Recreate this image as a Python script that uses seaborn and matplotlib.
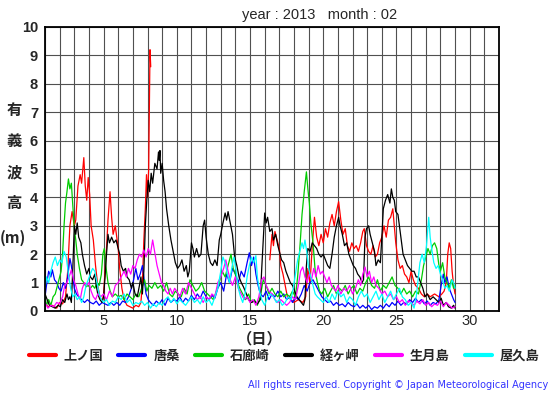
import numpy as np
import pandas as pd
import matplotlib
matplotlib.use("Agg")
import matplotlib.pyplot as plt
from matplotlib.lines import Line2D
import seaborn as sns

# ---------------- data ----------------
stations = ["上ノ国", "唐桑", "石廊崎", "経ヶ岬", "生月島", "屋久島"]
colors = ["#ff0000", "#0000ff", "#00cc00", "#000000", "#ff00ff", "#00ffff"]

red1_day = [1.0, 1.2, 1.5, 1.8, 2.0, 2.2, 2.4, 2.55, 2.7, 2.85, 3.0, 3.1, 3.25, 3.4, 3.5, 3.65, 3.75, 3.85, 3.95, 4.05,
            4.15, 4.3, 4.45, 4.6, 4.75, 4.9, 5.0, 5.1, 5.2, 5.3, 5.44, 5.55, 5.65, 5.8, 5.9, 6.0, 6.1, 6.25, 6.4, 6.6,
            6.8, 7.0, 7.2, 7.4, 7.55, 7.65, 7.75, 7.85, 7.93, 8.0, 8.08, 8.17, 8.22]
red1_val = [0.3, 0.15, 0.2, 0.1, 0.3, 0.25, 0.5, 1.4, 3.0, 3.5, 3.0, 3.2, 4.4, 4.8, 4.5, 5.4, 4.4, 3.9, 4.7, 4.1,
            3.0, 2.5, 1.6, 0.9, 0.5, 0.3, 0.6, 1.4, 2.2, 3.2, 4.2, 3.3, 2.7, 3.0, 2.6, 2.2, 1.5, 0.8, 0.4, 0.2,
            0.15, 0.1, 0.2, 0.15, 0.3, 1.0, 2.5, 3.6, 4.8, 4.0, 5.0, 9.2, 8.6]
red2_day = [16.35, 16.5, 16.6, 16.7, 16.85, 17.0, 17.1, 17.25, 17.4, 17.55, 17.8, 18.0, 18.3, 18.6, 18.8, 18.95,
            19.1, 19.25, 19.4, 19.55, 19.7, 19.85, 20.0, 20.15, 20.3, 20.45, 20.6, 20.75, 20.9, 21.05, 21.2, 21.35,
            21.5, 21.65, 21.8, 21.95, 22.1, 22.25, 22.4, 22.55, 22.7, 22.8, 22.95, 23.1, 23.25, 23.4, 23.55, 23.7,
            23.85, 24.0, 24.15, 24.3, 24.45, 24.6, 24.75, 24.85, 24.95, 25.1, 25.25, 25.4, 25.55, 25.7, 25.85, 26.0,
            26.15, 26.3, 26.5, 26.7, 26.9, 27.1, 27.3, 27.6, 27.9, 28.1, 28.25, 28.4, 28.5, 28.6, 28.7, 28.8, 28.9, 29.0]
red2_val = [1.8, 2.7, 2.3, 2.8, 2.5, 2.2, 1.6, 1.3, 0.9, 0.5, 0.4, 0.3, 0.4, 0.3, 0.5, 1.5,
            1.0, 2.3, 3.3, 2.6, 2.3, 2.7, 2.4, 2.9, 2.6, 3.1, 3.4, 3.0, 3.5, 3.85, 3.2, 2.7,
            2.9, 2.3, 2.1, 2.4, 2.2, 2.3, 2.1, 2.4, 2.8, 2.9, 2.3, 2.1, 2.0, 2.3, 1.9, 2.0,
            2.4, 2.6, 3.0, 2.6, 3.2, 3.3, 3.6, 3.0, 2.4, 1.8, 1.5, 1.6, 1.3, 1.2, 1.0, 1.4,
            1.1, 0.9, 0.8, 0.6, 0.5, 0.6, 0.5, 0.6, 0.5, 0.6, 0.7, 1.0, 2.0, 2.4, 2.2, 1.4, 0.9, 0.6]

black_day = [1.0, 1.15, 1.3, 1.5, 1.7, 1.9, 2.05, 2.2, 2.35, 2.5, 2.6, 2.7, 2.8, 2.9, 3.0, 3.1, 3.2, 3.3, 3.45, 3.55,
             3.7, 3.85, 4.0, 4.1, 4.25, 4.4, 4.5, 4.6, 4.75, 4.9, 5.0, 5.1, 5.2, 5.3, 5.4, 5.55, 5.7, 5.85, 6.0, 6.1,
             6.2, 6.35, 6.5, 6.6, 6.75, 6.9, 7.0, 7.15, 7.3, 7.45, 7.55, 7.65, 7.75, 7.85, 7.95, 8.05, 8.15, 8.25,
             8.35, 8.5, 8.65, 8.75, 8.8, 8.85, 8.9, 9.0, 9.1, 9.2, 9.3, 9.45, 9.6, 9.75, 9.9, 10.05, 10.2, 10.35,
             10.5, 10.65, 10.75, 10.85, 11.0, 11.1, 11.2, 11.35, 11.5, 11.65, 11.8, 11.9, 12.0, 12.15, 12.3, 12.45,
             12.6, 12.75, 12.9, 13.0, 13.15, 13.3, 13.4, 13.5, 13.65, 13.8, 13.95, 14.1, 14.25, 14.4, 14.55, 14.75,
             14.9, 15.1, 15.3, 15.5, 15.7, 15.8, 15.9, 16.0, 16.1, 16.2, 16.35, 16.5, 16.6, 16.75, 16.9, 17.0,
             17.15, 17.3, 17.45, 17.6, 17.75, 17.9, 18.05, 18.2, 18.35, 18.5, 18.65, 18.75, 18.85, 18.95, 19.1,
             19.25, 19.4, 19.55, 19.7, 19.85, 20.0, 20.15, 20.3, 20.45, 20.6, 20.75, 20.9, 21.05, 21.15, 21.3,
             21.45, 21.6, 21.75, 21.9, 22.05, 22.2, 22.35, 22.5, 22.65, 22.75, 22.85, 22.95, 23.1, 23.2, 23.35,
             23.5, 23.6, 23.75, 23.9, 24.0, 24.1, 24.25, 24.4, 24.55, 24.65, 24.75, 24.85, 24.95, 25.1, 25.2, 25.3,
             25.45, 25.6, 25.75, 25.9, 26.05, 26.2, 26.35, 26.5, 26.65, 26.8, 26.95, 27.1, 27.3, 27.5, 27.7, 27.9,
             28.05, 28.2, 28.4, 28.55, 28.75, 28.9, 29.0]
black_val = [0.6, 0.4, 0.2, 0.15, 0.1, 0.2, 0.15, 0.4, 0.3, 0.6, 0.4, 0.5, 0.3, 1.5, 3.0, 2.7, 3.1, 2.6, 2.4, 2.0,
             1.6, 1.3, 1.5, 1.2, 1.1, 1.3, 0.9, 0.6, 0.4, 0.3, 0.5, 1.2, 2.0, 2.7, 2.4, 2.6, 2.4, 2.5, 2.2, 2.0,
             1.6, 1.4, 1.5, 1.2, 1.1, 0.8, 1.0, 0.6, 0.5, 0.9, 1.2, 0.6, 1.4, 3.0, 3.9, 4.6, 4.2, 4.85,
             4.5, 5.2, 5.0, 5.6, 5.3, 5.65, 4.85, 5.2, 4.6, 4.2, 3.6, 3.0, 2.5, 2.1, 1.7, 1.5, 1.6, 1.8,
             1.4, 1.6, 1.2, 1.4, 2.4, 2.2, 1.9, 2.2, 1.9, 2.0, 3.0, 3.2, 2.6, 2.0, 1.7, 1.6,
             1.8, 1.6, 2.5, 2.7, 3.1, 3.45, 3.2, 3.5, 3.1, 2.7, 1.9, 1.6, 1.2, 1.0, 0.85, 0.6,
             0.4, 0.3, 0.35, 0.25, 0.4, 1.5, 2.5, 3.45, 3.1, 3.3, 2.8, 2.9, 2.5, 2.7, 2.3, 2.1,
             1.8, 1.7, 1.4, 1.2, 1.0, 0.9, 0.7, 0.5, 0.4, 0.3, 0.2, 0.4, 1.6, 2.2, 2.1,
             2.4, 2.3, 2.2, 2.0, 1.9, 2.0, 1.8, 1.6, 1.5, 2.0, 2.6, 3.0, 3.3, 3.0, 2.7,
             2.3, 2.4, 2.0, 1.8, 1.6, 1.5, 1.3, 1.2, 1.0, 1.1, 2.6, 2.9, 3.0, 2.7, 2.4,
             2.1, 1.6, 1.8, 1.7, 2.6, 3.6, 3.9, 4.1, 3.8, 4.3, 4.0, 3.9, 3.5, 3.4, 3.0, 2.6,
             2.0, 1.8, 1.6, 1.5, 1.4, 1.4, 1.2, 1.2, 1.0, 0.8, 0.5, 0.6, 0.4, 0.5, 0.4, 0.3,
             0.45, 0.2, 0.3, 0.15, 0.1, 0.2, 0.1]

green_day = [1.0, 1.1, 1.25, 1.4, 1.55, 1.7, 1.85, 2.0, 2.1, 2.2, 2.3, 2.4, 2.5, 2.6, 2.7, 2.8, 2.9, 3.0, 3.1, 3.2,
             3.35, 3.5, 3.65, 3.8, 3.95, 4.1, 4.25, 4.4, 4.55, 4.7, 4.85, 4.95, 5.05, 5.15, 5.3, 5.45, 5.6, 5.8, 6.0,
             6.2, 6.4, 6.6, 6.8, 7.0, 7.2, 7.4, 7.6, 7.8, 7.95, 8.1, 8.3, 8.5, 8.7, 8.9, 9.1, 9.3, 9.5, 9.7, 9.9,
             10.1, 10.3, 10.5, 10.7, 10.9, 11.1, 11.3, 11.5, 11.7, 11.9, 12.1, 12.3, 12.5, 12.7, 12.9, 13.1, 13.3,
             13.5, 13.7, 13.85, 14.0, 14.15, 14.3, 14.5, 14.7, 14.9, 15.1, 15.3, 15.5, 15.7, 15.9, 16.1, 16.3, 16.5,
             16.7, 16.9, 17.1, 17.3, 17.5, 17.7, 17.9, 18.1, 18.25, 18.4, 18.55, 18.7, 18.85, 18.95, 19.05, 19.15,
             19.3, 19.45, 19.6, 19.75, 19.9, 20.1, 20.3, 20.5, 20.7, 20.9, 21.1, 21.3, 21.5, 21.7, 21.9, 22.1, 22.3,
             22.5, 22.7, 22.9, 23.1, 23.3, 23.5, 23.7, 23.9, 24.1, 24.3, 24.5, 24.7, 24.9, 25.1, 25.3, 25.5, 25.7,
             25.9, 26.1, 26.3, 26.5, 26.7, 26.85, 27.0, 27.15, 27.3, 27.45, 27.6, 27.75, 27.9, 28.0, 28.15, 28.3,
             28.45, 28.6, 28.75, 28.9, 29.0]
green_val = [0.5, 0.2, 0.4, 0.2, 0.5, 0.6, 0.9, 1.2, 1.4, 2.0, 3.0, 3.8, 4.2, 4.65, 4.3, 4.5, 3.7, 2.9, 2.5, 2.0,
             1.5, 1.1, 1.0, 0.85, 0.9, 0.8, 0.9, 0.8, 1.0, 0.9, 1.3, 2.0, 2.2, 1.6, 1.0, 0.7, 0.5, 0.6, 0.5,
             0.55, 0.4, 0.6, 0.5, 0.4, 0.6, 0.5, 0.8, 1.1, 0.7, 0.9, 0.8, 1.0, 0.8, 0.9, 0.7, 1.0, 0.6, 0.5, 0.7,
             0.6, 0.5, 0.8, 0.6, 1.1, 0.9, 0.7, 0.8, 1.0, 0.7, 0.6, 0.5, 0.4, 0.7, 1.0, 1.4, 1.2,
             1.6, 2.0, 1.5, 1.3, 1.0, 0.8, 0.6, 0.4, 0.6, 0.3, 0.4, 0.2, 0.5, 1.1, 0.9, 0.6, 0.8,
             0.6, 0.5, 0.7, 0.5, 0.6, 0.5, 0.7, 0.5, 1.2, 2.2, 3.4, 4.2, 4.9, 4.3, 3.8, 3.1,
             2.4, 1.4, 1.0, 0.7, 0.6, 0.8, 0.5, 0.7, 0.9, 0.6, 0.8, 0.7, 0.9, 0.6, 0.8, 0.9, 0.6,
             0.8, 0.7, 1.0, 1.2, 0.9, 0.8, 1.1, 0.7, 0.9, 0.8, 1.0, 1.2, 0.9, 0.8, 0.6, 0.8, 0.6,
             0.7, 0.5, 0.7, 0.6, 1.1, 1.6, 1.9, 2.2, 2.0, 2.3, 2.4, 2.2, 1.6, 1.4, 1.7, 1.2,
             1.0, 0.8, 1.1, 0.8, 0.9]

blue_day = [1.0, 1.1, 1.25, 1.4, 1.5, 1.65, 1.8, 1.95, 2.1, 2.25, 2.4, 2.55, 2.7, 2.8, 2.9, 3.0, 3.15, 3.3, 3.5, 3.7,
            3.9, 4.1, 4.3, 4.5, 4.7, 4.9, 5.1, 5.3, 5.5, 5.7, 5.9, 6.1, 6.3, 6.5, 6.7, 6.9, 7.05, 7.2, 7.35, 7.5,
            7.65, 7.8, 7.9, 8.05, 8.2, 8.4, 8.6, 8.8, 9.0, 9.2, 9.4, 9.6, 9.8, 10.0, 10.2, 10.4, 10.6, 10.8, 11.0,
            11.2, 11.4, 11.6, 11.8, 12.0, 12.2, 12.4, 12.6, 12.8, 13.0, 13.2, 13.4, 13.6, 13.8, 14.0, 14.2, 14.4,
            14.6, 14.8, 14.95, 15.1, 15.25, 15.4, 15.55, 15.7, 15.9, 16.1, 16.3, 16.5, 16.7, 16.9, 17.1, 17.3, 17.5,
            17.7, 17.9, 18.1, 18.3, 18.5, 18.7, 18.9, 19.1, 19.3, 19.5, 19.7, 19.9, 20.1, 20.3, 20.5, 20.7, 20.9,
            21.1, 21.3, 21.5, 21.7, 21.9, 22.1, 22.3, 22.5, 22.7, 22.9, 23.1, 23.3, 23.5, 23.7, 23.9, 24.1, 24.3,
            24.5, 24.7, 24.9, 25.1, 25.3, 25.5, 25.7, 25.9, 26.1, 26.3, 26.5, 26.7, 26.9, 27.1, 27.3, 27.5, 27.7,
            27.9, 28.05, 28.2, 28.3, 28.45, 28.6, 28.75, 28.9, 29.0]
blue_val = [0.5, 0.9, 1.4, 1.2, 1.45, 1.1, 1.0, 0.8, 0.7, 1.0, 0.8, 1.2, 1.85, 1.6, 1.2, 0.8, 0.6, 0.5, 0.4, 0.3,
            0.4, 0.3, 0.25, 0.35, 0.2, 0.3, 0.25, 0.2, 0.3, 0.2, 0.3, 0.2, 0.35, 0.3, 0.5, 0.8, 1.1, 1.5, 1.1, 1.3,
            1.6, 1.0, 0.6, 0.4, 0.3, 0.2, 0.35, 0.25, 0.4, 0.2, 0.45, 0.3, 0.4, 0.35, 0.5, 0.3, 0.45, 0.35, 0.55,
            0.4, 0.6, 0.45, 0.7, 0.5, 0.4, 0.55, 0.45, 0.8, 1.0, 0.7, 1.3, 1.0, 1.5, 1.3, 1.0, 1.4,
            1.2, 1.7, 2.05, 1.6, 1.9, 1.3, 0.9, 0.6, 0.5, 0.7, 0.4, 0.6, 0.5, 0.7, 0.5, 0.6, 0.4,
            0.5, 0.3, 0.5, 0.4, 0.6, 0.9, 0.7, 1.0, 1.1, 0.9, 0.7, 0.5, 0.4, 0.3, 0.35, 0.2, 0.3,
            0.2, 0.25, 0.15, 0.3, 0.2, 0.15, 0.25, 0.1, 0.2, 0.1, 0.2, 0.05, 0.15, 0.1, 0.2, 0.1, 0.25,
            0.15, 0.3, 0.2, 0.35, 0.2, 0.3, 0.25, 0.4, 0.3, 0.45, 0.3, 0.4, 0.25, 0.35, 0.2, 0.3, 0.25,
            0.4, 0.9, 1.3, 1.0, 1.2, 0.8, 0.6, 0.4, 0.3]

magenta_day = [1.0, 1.2, 1.4, 1.6, 1.8, 2.0, 2.2, 2.35, 2.5, 2.65, 2.8, 2.95, 3.1, 3.25, 3.4, 3.55, 3.7, 3.85, 4.0,
               4.15, 4.3, 4.45, 4.6, 4.8, 5.0, 5.2, 5.4, 5.6, 5.8, 6.0, 6.2, 6.4, 6.55, 6.7, 6.85, 7.0, 7.15, 7.3,
               7.45, 7.6, 7.75, 7.9, 8.05, 8.2, 8.35, 8.45, 8.55, 8.65, 8.8, 8.95, 9.1, 9.25, 9.4, 9.55, 9.7, 9.85,
               10.0, 10.2, 10.4, 10.6, 10.8, 11.0, 11.2, 11.4, 11.6, 11.8, 12.0, 12.2, 12.4, 12.6, 12.8, 13.0, 13.2,
               13.35, 13.5, 13.65, 13.8, 14.0, 14.2, 14.4, 14.6, 14.8, 15.0, 15.2, 15.4, 15.6, 15.8, 15.95, 16.1,
               16.3, 16.5, 16.7, 16.9, 17.1, 17.3, 17.5, 17.7, 17.9, 18.1, 18.3, 18.45, 18.6, 18.75, 18.9, 19.05,
               19.2, 19.35, 19.5, 19.65, 19.8, 19.95, 20.1, 20.25, 20.4, 20.55, 20.7, 20.85, 21.0, 21.2, 21.4, 21.6,
               21.8, 22.0, 22.2, 22.4, 22.55, 22.7, 22.85, 23.0, 23.15, 23.3, 23.45, 23.6, 23.8, 24.0, 24.2, 24.4,
               24.6, 24.8, 25.0, 25.2, 25.4, 25.6, 25.8, 26.0, 26.2, 26.4, 26.6, 26.8, 27.0, 27.2, 27.4, 27.6, 27.8,
               28.0, 28.2, 28.4, 28.6, 28.8, 29.0]
magenta_val = [0.3, 0.1, 0.2, 0.15, 0.3, 0.25, 0.5, 0.9, 1.0, 1.2, 1.45, 1.1, 0.9, 0.6, 0.4, 0.8, 1.0, 0.9, 1.0,
               0.7, 0.5, 0.4, 0.6, 0.5, 0.6, 0.4, 0.7, 0.5, 0.9, 1.0, 1.2, 1.4, 1.2, 1.5, 1.3, 1.6, 1.5, 1.8,
               2.0, 1.9, 2.15, 1.9, 2.2, 2.0, 2.5, 2.2, 1.9, 1.6, 1.3, 1.0, 0.9, 0.7, 0.6, 0.8, 0.6, 0.8,
               0.7, 0.5, 0.8, 0.6, 1.0, 0.8, 0.6, 0.4, 0.5, 0.3, 0.5, 0.4, 0.6, 0.5, 1.0, 1.2, 1.5,
               1.8, 1.4, 1.1, 0.9, 1.2, 0.8, 0.6, 0.4, 0.5, 0.3, 0.4, 0.2, 0.5, 1.1, 1.2, 0.9,
               0.7, 0.6, 0.4, 0.3, 0.4, 0.3, 0.2, 0.3, 0.5, 0.4, 0.9, 1.4, 1.55, 1.2, 1.0, 1.3,
               1.1, 1.5, 1.2, 1.6, 1.3, 1.4, 1.2, 1.0, 1.2, 0.9, 0.8, 0.7, 0.9, 0.6, 0.8, 0.7,
               0.9, 0.6, 0.8, 1.1, 0.9, 1.3, 1.55, 1.2, 1.4, 1.0, 1.2, 0.9, 0.8, 0.6, 0.7, 0.5,
               0.6, 0.4, 0.5, 0.3, 0.4, 0.2, 0.35, 0.3, 0.2, 0.35, 0.25, 0.4, 0.2, 0.3, 0.15, 0.25, 0.2,
               0.35, 0.15, 0.3, 0.2, 0.1, 0.15]

cyan_day = [1.0, 1.1, 1.25, 1.4, 1.55, 1.7, 1.85, 2.0, 2.15, 2.3, 2.45, 2.6, 2.75, 2.9, 3.05, 3.2, 3.35, 3.5, 3.65,
            3.8, 3.95, 4.1, 4.25, 4.4, 4.55, 4.7, 4.85, 5.0, 5.2, 5.4, 5.6, 5.8, 6.0, 6.2, 6.4, 6.6, 6.8, 7.0, 7.2,
            7.4, 7.6, 7.8, 8.0, 8.2, 8.4, 8.6, 8.8, 9.0, 9.2, 9.4, 9.6, 9.8, 10.0, 10.2, 10.4, 10.6, 10.8, 11.0,
            11.2, 11.4, 11.6, 11.8, 12.0, 12.2, 12.4, 12.6, 12.8, 13.0, 13.15, 13.3, 13.45, 13.6, 13.75, 13.9,
            14.05, 14.2, 14.35, 14.5, 14.65, 14.8, 14.95, 15.1, 15.25, 15.4, 15.5, 15.65, 15.8, 16.0, 16.2, 16.4,
            16.6, 16.8, 17.0, 17.2, 17.4, 17.6, 17.8, 17.95, 18.1, 18.25, 18.4, 18.55, 18.65, 18.75, 18.9, 19.0,
            19.15, 19.3, 19.45, 19.6, 19.8, 20.0, 20.2, 20.4, 20.6, 20.8, 21.0, 21.2, 21.4, 21.6, 21.8, 22.0, 22.2,
            22.4, 22.6, 22.8, 23.0, 23.2, 23.4, 23.6, 23.8, 24.0, 24.2, 24.4, 24.6, 24.8, 25.0, 25.2, 25.4, 25.6,
            25.8, 26.0, 26.2, 26.35, 26.5, 26.6, 26.75, 26.9, 27.05, 27.2, 27.3, 27.4, 27.55, 27.7, 27.85, 28.0,
            28.15, 28.3, 28.45, 28.6, 28.8, 28.9, 29.0]
cyan_val = [0.8, 1.2, 1.0, 1.4, 1.7, 1.9, 1.6, 1.8, 1.7, 2.1, 1.9, 1.3, 0.8, 0.5, 0.6, 0.4, 0.5, 0.3, 0.5,
            0.9, 1.1, 1.3, 1.5, 1.4, 1.0, 0.6, 0.4, 0.3, 0.4, 0.2, 0.35, 0.3, 0.5, 0.4, 0.6, 0.3, 0.4, 0.2, 0.3,
            0.25, 0.35, 0.2, 0.3, 0.1, 0.25, 0.15, 0.3, 0.2, 0.4, 0.5, 0.3, 0.45, 0.25, 0.4, 0.3, 0.2, 0.35, 0.5,
            0.3, 0.4, 0.25, 0.5, 0.3, 0.4, 0.2, 0.5, 0.8, 1.4, 1.9, 1.7, 1.3, 1.0, 1.5, 1.9,
            1.4, 0.8, 0.5, 0.3, 0.6, 1.2, 1.6, 1.9, 1.7, 1.95, 1.2, 0.7, 0.4, 0.2, 0.5, 0.6,
            0.5, 0.3, 0.4, 0.2, 0.3, 0.5, 0.4, 0.8, 1.3, 1.8, 2.1, 2.4, 2.2, 2.5, 2.0, 1.5,
            1.2, 0.9, 0.6, 0.5, 0.4, 0.3, 0.5, 0.3, 0.6, 0.4, 0.7, 0.5, 0.6, 0.3, 0.5, 0.4, 0.2,
            0.5, 0.7, 0.5, 0.6, 0.3, 0.5, 0.7, 0.4, 0.6, 0.3, 0.5, 0.7, 0.4, 0.6, 0.8, 0.5, 0.4,
            0.2, 0.3, 0.1, 0.5, 1.2, 1.7, 2.0, 1.7, 2.3, 3.3, 2.6, 2.2, 1.7, 1.5, 1.6, 1.3,
            1.1, 0.8, 0.9, 0.7, 1.1, 1.0, 0.8]

y_ticks = list(range(0, 11))
x_ticks = [5, 10, 15, 20, 25, 30]

# ---------------- long table ----------------
series = [
    ("上ノ国", "a", red1_day, red1_val),
    ("上ノ国", "b", red2_day, red2_val),
    ("唐桑", "a", blue_day, blue_val),
    ("石廊崎", "a", green_day, green_val),
    ("経ヶ岬", "a", black_day, black_val),
    ("生月島", "a", magenta_day, magenta_val),
    ("屋久島", "a", cyan_day, cyan_val),
]
frames = []
for st, seg, d, v in series:
    frames.append(pd.DataFrame({"station": st, "seg": st + seg, "day": d, "value": v}))
df = pd.concat(frames, ignore_index=True)

# ---------------- figure ----------------
sns.set_theme(style="white")
plt.rcParams["font.family"] = ["Liberation Sans", "Noto Sans CJK JP", "DejaVu Sans"]

fig = plt.figure(figsize=(5.55, 3.95), dpi=100)
ax = fig.add_axes([45 / 555, 1 - 311 / 395, 454 / 555, 284 / 395])

palette = dict(zip(stations, colors))
sns.lineplot(data=df, x="day", y="value", hue="station", units="seg", estimator=None,
             palette=palette, hue_order=stations, sort=False, linewidth=0.9, legend=False, ax=ax)

ax.set_xlim(1, 32)
ax.set_ylim(0, 10)
ax.set_xticks(np.arange(1, 33, 1), minor=True)
ax.set_xticks(x_ticks)
ax.set_yticks(y_ticks)
ax.grid(True, which="both", axis="x", color="#505050", linewidth=0.8)
ax.grid(True, which="major", axis="y", color="#505050", linewidth=0.8)
ax.set_axisbelow(True)
ax.tick_params(axis="both", which="both", length=0)
ax.tick_params(axis="x", pad=2, labelsize=10.5)
ax.tick_params(axis="y", pad=5, labelsize=10.5)
for lab in ax.get_yticklabels():
    lab.set_fontweight("bold")
ax.set_xlabel("")
ax.set_ylabel("")
for sp in ax.spines.values():
    sp.set_color("black")
    sp.set_linewidth(1.3)

# y label (vertical characters)
for ch, yp in zip(["有", "義", "波", "高"], [110, 141, 172, 203]):
    fig.text(14 / 555, 1 - yp / 395, ch, ha="center", va="center", fontsize=11,
             fontweight="bold", family=["Noto Sans CJK JP"])
fig.text(13 / 555, 1 - 238 / 395, "(m)", ha="center", va="center", fontsize=11,
         fontweight="bold", family=["Noto Sans CJK JP"])
fig.text(260 / 555, 1 - 338 / 395, "（日）", ha="center", va="center", fontsize=11,
         fontweight="bold", family=["Noto Sans CJK JP"])

# title
fig.text(242 / 555, 1 - 15 / 395, "year : 2013   month : 02", ha="left", va="center", fontsize=10.5)

# legend
handles = [Line2D([0], [0], color=c, linewidth=3) for c in colors]
leg = fig.legend(handles, stations, ncol=6, loc="center", bbox_to_anchor=(284 / 555, 1 - 356 / 395),
                 frameon=False, handlelength=2.05, handletextpad=0.6, columnspacing=1.15,
                 prop={"family": ["Noto Sans CJK JP"], "weight": "bold", "size": 9.5})

# copyright
fig.text(548 / 555, 1 - 385 / 395, "All rights reserved. Copyright © Japan Meteorological Agency",
         ha="right", va="center", fontsize=7, color="#3333ff", family=["DejaVu Sans"])

fig.savefig("out.png", dpi=100)
